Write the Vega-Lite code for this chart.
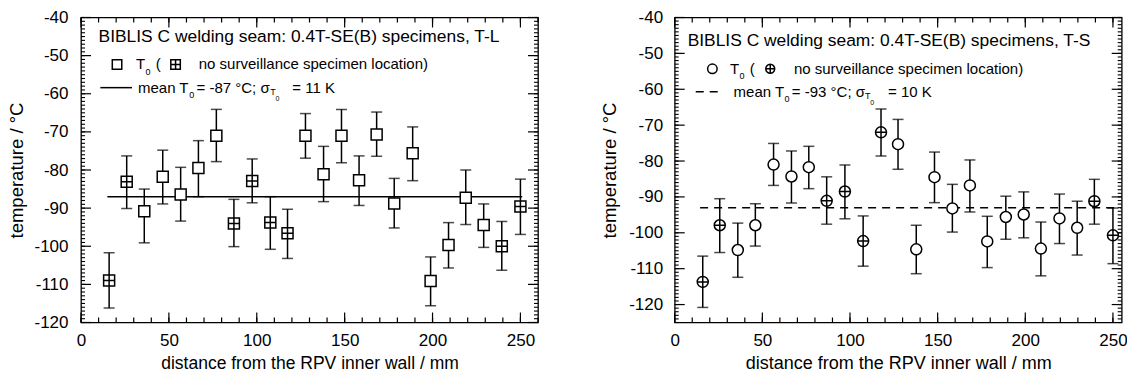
{
  "$schema": "https://vega.github.io/schema/vega-lite/v6.json",
  "padding": {"left": 7, "top": 7.5, "right": 0, "bottom": 0},
  "background": "white",
  "spacing": 136.7,
  "bounds": "flush",
  "resolve": {"scale": {"shape": "independent"}},
  "datasets": {
    "tl": [
      {"d": 16, "t0": -109.0, "lo": -116.2, "hi": -101.7, "loc": "nss"},
      {"d": 26, "t0": -83.1, "lo": -90.1, "hi": -76.3, "loc": "nss"},
      {"d": 36, "t0": -90.8, "lo": -99.1, "hi": -85.0, "loc": "std"},
      {"d": 46.5, "t0": -81.8, "lo": -88.9, "hi": -74.8, "loc": "std"},
      {"d": 56.7, "t0": -86.4, "lo": -93.4, "hi": -79.3, "loc": "std"},
      {"d": 66.8, "t0": -79.5, "lo": -87.0, "hi": -72.3, "loc": "std"},
      {"d": 77, "t0": -71.0, "lo": -77.8, "hi": -64.1, "loc": "std"},
      {"d": 87, "t0": -94.0, "lo": -100.1, "hi": -87.7, "loc": "nss"},
      {"d": 97.4, "t0": -82.9, "lo": -88.6, "hi": -77.1, "loc": "nss"},
      {"d": 107.7, "t0": -93.8, "lo": -100.8, "hi": -87.0, "loc": "nss"},
      {"d": 117.5, "t0": -96.6, "lo": -103.2, "hi": -90.3, "loc": "nss"},
      {"d": 127.7, "t0": -71.0, "lo": -76.9, "hi": -65.2, "loc": "std"},
      {"d": 138, "t0": -81.1, "lo": -88.3, "hi": -73.8, "loc": "std"},
      {"d": 148.2, "t0": -71.0, "lo": -78.1, "hi": -64.1, "loc": "std"},
      {"d": 158.2, "t0": -82.7, "lo": -89.3, "hi": -76.3, "loc": "std"},
      {"d": 168.2, "t0": -70.7, "lo": -76.4, "hi": -64.8, "loc": "std"},
      {"d": 178.2, "t0": -88.8, "lo": -95.2, "hi": -82.2, "loc": "std"},
      {"d": 188.7, "t0": -75.6, "lo": -82.8, "hi": -68.7, "loc": "std"},
      {"d": 198.9, "t0": -109.1, "lo": -115.6, "hi": -102.8, "loc": "std"},
      {"d": 209.1, "t0": -99.7, "lo": -105.7, "hi": -93.8, "loc": "std"},
      {"d": 218.9, "t0": -87.3, "lo": -94.3, "hi": -80.0, "loc": "std"},
      {"d": 229.1, "t0": -94.4, "lo": -100.3, "hi": -88.9, "loc": "std"},
      {"d": 239.4, "t0": -100.0, "lo": -106.3, "hi": -93.5, "loc": "nss"},
      {"d": 250, "t0": -89.6, "lo": -96.9, "hi": -82.4, "loc": "nss"}
    ],
    "ts": [
      {"d": 16, "t0": -113.7, "lo": -120.8, "hi": -106.5, "loc": "nss"},
      {"d": 25.7, "t0": -97.9, "lo": -105.5, "hi": -90.5, "loc": "nss"},
      {"d": 36, "t0": -104.8, "lo": -112.4, "hi": -97.3, "loc": "std"},
      {"d": 46, "t0": -97.9, "lo": -103.7, "hi": -91.9, "loc": "std"},
      {"d": 56.4, "t0": -81.0, "lo": -86.8, "hi": -75.1, "loc": "std"},
      {"d": 66.6, "t0": -84.3, "lo": -91.7, "hi": -77.2, "loc": "std"},
      {"d": 76.5, "t0": -81.7, "lo": -87.7, "hi": -75.9, "loc": "std"},
      {"d": 86.7, "t0": -91.1, "lo": -97.6, "hi": -84.4, "loc": "nss"},
      {"d": 97.1, "t0": -88.5, "lo": -96.1, "hi": -81.1, "loc": "nss"},
      {"d": 107.5, "t0": -102.3, "lo": -109.3, "hi": -95.3, "loc": "nss"},
      {"d": 117.7, "t0": -72.0, "lo": -78.6, "hi": -65.5, "loc": "nss"},
      {"d": 127.4, "t0": -75.3, "lo": -82.3, "hi": -68.4, "loc": "std"},
      {"d": 137.8, "t0": -104.6, "lo": -111.4, "hi": -97.9, "loc": "std"},
      {"d": 148.2, "t0": -84.5, "lo": -91.6, "hi": -77.5, "loc": "std"},
      {"d": 158.4, "t0": -93.2, "lo": -99.8, "hi": -86.5, "loc": "std"},
      {"d": 168.4, "t0": -86.8, "lo": -94.2, "hi": -79.7, "loc": "std"},
      {"d": 178.3, "t0": -102.4, "lo": -109.7, "hi": -95.4, "loc": "std"},
      {"d": 188.9, "t0": -95.6, "lo": -101.8, "hi": -89.8, "loc": "std"},
      {"d": 199.1, "t0": -94.9, "lo": -101.4, "hi": -88.6, "loc": "std"},
      {"d": 208.9, "t0": -104.4, "lo": -112.0, "hi": -97.0, "loc": "std"},
      {"d": 219.5, "t0": -96.0, "lo": -103.0, "hi": -89.2, "loc": "std"},
      {"d": 229.6, "t0": -98.6, "lo": -106.2, "hi": -91.2, "loc": "std"},
      {"d": 239.4, "t0": -91.2, "lo": -97.6, "hi": -85.1, "loc": "nss"},
      {"d": 250, "t0": -100.7, "lo": -108.6, "hi": -93.1, "loc": "nss"}
    ],
    "meanL": [{"d": 15, "m": -87}, {"d": 251, "m": -87}],
    "meanR": [{"d": 14.5, "m": -93}, {"d": 255, "m": -93}],
    "xAllL": [{"v":0},{"v":10},{"v":20},{"v":30},{"v":40},{"v":50},{"v":60},{"v":70},{"v":80},{"v":90},{"v":100},{"v":110},{"v":120},{"v":130},{"v":140},{"v":150},{"v":160},{"v":170},{"v":180},{"v":190},{"v":200},{"v":210},{"v":220},{"v":230},{"v":240},{"v":250},{"v":260}],
    "xAllR": [{"v":0},{"v":10},{"v":20},{"v":30},{"v":40},{"v":50},{"v":60},{"v":70},{"v":80},{"v":90},{"v":100},{"v":110},{"v":120},{"v":130},{"v":140},{"v":150},{"v":160},{"v":170},{"v":180},{"v":190},{"v":200},{"v":210},{"v":220},{"v":230},{"v":240},{"v":250}],
    "xMaj": [{"v":0},{"v":50},{"v":100},{"v":150},{"v":200},{"v":250}],
    "yAllL": [{"v":-120},{"v":-119},{"v":-118},{"v":-117},{"v":-116},{"v":-115},{"v":-114},{"v":-113},{"v":-112},{"v":-111},{"v":-110},{"v":-109},{"v":-108},{"v":-107},{"v":-106},{"v":-105},{"v":-104},{"v":-103},{"v":-102},{"v":-101},{"v":-100},{"v":-99},{"v":-98},{"v":-97},{"v":-96},{"v":-95},{"v":-94},{"v":-93},{"v":-92},{"v":-91},{"v":-90},{"v":-89},{"v":-88},{"v":-87},{"v":-86},{"v":-85},{"v":-84},{"v":-83},{"v":-82},{"v":-81},{"v":-80},{"v":-79},{"v":-78},{"v":-77},{"v":-76},{"v":-75},{"v":-74},{"v":-73},{"v":-72},{"v":-71},{"v":-70},{"v":-69},{"v":-68},{"v":-67},{"v":-66},{"v":-65},{"v":-64},{"v":-63},{"v":-62},{"v":-61},{"v":-60},{"v":-59},{"v":-58},{"v":-57},{"v":-56},{"v":-55},{"v":-54},{"v":-53},{"v":-52},{"v":-51},{"v":-50},{"v":-49},{"v":-48},{"v":-47},{"v":-46},{"v":-45},{"v":-44},{"v":-43},{"v":-42},{"v":-41},{"v":-40}],
    "yAllR": [{"v":-125},{"v":-124},{"v":-123},{"v":-122},{"v":-121},{"v":-120},{"v":-119},{"v":-118},{"v":-117},{"v":-116},{"v":-115},{"v":-114},{"v":-113},{"v":-112},{"v":-111},{"v":-110},{"v":-109},{"v":-108},{"v":-107},{"v":-106},{"v":-105},{"v":-104},{"v":-103},{"v":-102},{"v":-101},{"v":-100},{"v":-99},{"v":-98},{"v":-97},{"v":-96},{"v":-95},{"v":-94},{"v":-93},{"v":-92},{"v":-91},{"v":-90},{"v":-89},{"v":-88},{"v":-87},{"v":-86},{"v":-85},{"v":-84},{"v":-83},{"v":-82},{"v":-81},{"v":-80},{"v":-79},{"v":-78},{"v":-77},{"v":-76},{"v":-75},{"v":-74},{"v":-73},{"v":-72},{"v":-71},{"v":-70},{"v":-69},{"v":-68},{"v":-67},{"v":-66},{"v":-65},{"v":-64},{"v":-63},{"v":-62},{"v":-61},{"v":-60},{"v":-59},{"v":-58},{"v":-57},{"v":-56},{"v":-55},{"v":-54},{"v":-53},{"v":-52},{"v":-51},{"v":-50},{"v":-49},{"v":-48},{"v":-47},{"v":-46},{"v":-45},{"v":-44},{"v":-43},{"v":-42},{"v":-41},{"v":-40}],
    "yMaj": [{"v":-120},{"v":-110},{"v":-100},{"v":-90},{"v":-80},{"v":-70},{"v":-60},{"v":-50},{"v":-40}]
  },
  "hconcat": [
    {
      "width": 457,
      "height": 305,
      "layer": [
        {
          "data": {"name": "tl"},
          "mark": {"type": "errorbar", "ticks": {"size": 11, "thickness": 1.5, "color": "black"}, "rule": {"strokeWidth": 1.5, "color": "black"}},
          "encoding": {
            "x": {"field": "d", "type": "quantitative", "scale": {"domain": [0, 260], "nice": false, "zero": false}, "axis": null},
            "y": {"field": "lo", "type": "quantitative", "scale": {"domain": [-120, -40], "nice": false, "zero": false}, "axis": null},
            "y2": {"field": "hi"}
          }
        },
        {"data": {"name": "xAllL"}, "mark": {"type": "rule", "color": "black", "strokeWidth": 1.2}, "encoding": {"x": {"field": "v", "type": "quantitative", "axis": null}, "y": {"datum": -120, "type": "quantitative", "axis": null}, "y2": {"datum": -118.69}}},
        {"data": {"name": "xMaj"}, "mark": {"type": "rule", "color": "black", "strokeWidth": 1.2}, "encoding": {"x": {"field": "v", "type": "quantitative", "axis": null}, "y": {"datum": -120, "type": "quantitative", "axis": null}, "y2": {"datum": -117.38}}},
        {"data": {"name": "xAllL"}, "mark": {"type": "rule", "color": "black", "strokeWidth": 1.2}, "encoding": {"x": {"field": "v", "type": "quantitative", "axis": null}, "y": {"datum": -40, "type": "quantitative", "axis": null}, "y2": {"datum": -41.31}}},
        {"data": {"name": "xMaj"}, "mark": {"type": "rule", "color": "black", "strokeWidth": 1.2}, "encoding": {"x": {"field": "v", "type": "quantitative", "axis": null}, "y": {"datum": -40, "type": "quantitative", "axis": null}, "y2": {"datum": -42.62}}},
        {"data": {"name": "yAllL"}, "mark": {"type": "rule", "color": "black", "strokeWidth": 1.1}, "encoding": {"y": {"field": "v", "type": "quantitative", "axis": null}, "x": {"datum": 0, "type": "quantitative", "axis": null}, "x2": {"datum": 2.28}}},
        {"data": {"name": "yMaj"}, "mark": {"type": "rule", "color": "black", "strokeWidth": 1.2}, "encoding": {"y": {"field": "v", "type": "quantitative", "axis": null}, "x": {"datum": 0, "type": "quantitative", "axis": null}, "x2": {"datum": 5.69}}},
        {"data": {"name": "yAllL"}, "mark": {"type": "rule", "color": "black", "strokeWidth": 1.1}, "encoding": {"y": {"field": "v", "type": "quantitative", "axis": null}, "x": {"datum": 260, "type": "quantitative", "axis": null}, "x2": {"datum": 257.72}}},
        {"data": {"name": "yMaj"}, "mark": {"type": "rule", "color": "black", "strokeWidth": 1.2}, "encoding": {"y": {"field": "v", "type": "quantitative", "axis": null}, "x": {"datum": 260, "type": "quantitative", "axis": null}, "x2": {"datum": 254.31}}},
        {
          "data": {"name": "meanL"},
          "mark": {"type": "line", "color": "black", "strokeWidth": 1.5},
          "encoding": {
            "x": {"field": "d", "type": "quantitative", "axis": null},
            "y": {"field": "m", "type": "quantitative", "axis": null}
          }
        },
        {
          "data": {"name": "tl"},
          "mark": {"type": "point", "filled": true, "fill": "white", "stroke": "black", "strokeWidth": 1.5, "size": 121, "opacity": 1},
          "encoding": {
            "x": {"field": "d", "type": "quantitative", "axis": {"orient": "bottom", "title": "distance from the RPV inner wall / mm", "titleFontSize": 17.5, "titlePadding": 6, "labelPadding": 10, "ticks": false, "domain": false, "grid": false, "labelOverlap": false, "labelFlush": false, "values": [0, 50, 100, 150, 200, 250]}},
            "y": {"field": "t0", "type": "quantitative", "axis": {"orient": "left", "title": "temperature / °C", "titleFontSize": 18.5, "titlePadding": 7, "labelPadding": 13, "ticks": false, "domain": false, "grid": false, "labelOverlap": false, "labelFlush": false, "labelExpr": "'' + datum.value", "values": [-120, -110, -100, -90, -80, -70, -60, -50, -40]}},
            "shape": {"field": "loc", "type": "nominal", "scale": {"domain": ["std", "nss"], "range": ["square", "M-1,-1H1V1H-1Z M0,-1V1 M-1,0H1"]}, "legend": null}
          }
        },
        {
          "data": {"values": [{}]},
          "mark": {"type": "text", "align": "left", "baseline": "middle", "fontSize": 17.4, "text": "BIBLIS C welding seam: 0.4T-SE(B) specimens, T-L"},
          "encoding": {"x": {"datum": 10.0, "type": "quantitative", "axis": null}, "y": {"datum": -45.1, "type": "quantitative", "axis": null}}
        },
        {
          "data": {"values": [{}]},
          "mark": {"type": "point", "shape": "square", "filled": true, "fill": "white", "stroke": "black", "strokeWidth": 1.5, "size": 90, "opacity": 1},
          "encoding": {"x": {"datum": 20.5, "type": "quantitative", "axis": null}, "y": {"datum": -52.3, "type": "quantitative", "axis": null}}
        },
        {
          "data": {"values": [{}]},
          "mark": {"type": "point", "shape": "M-1,-1H1V1H-1Z M0,-1V1 M-1,0H1", "filled": true, "fill": "white", "stroke": "black", "strokeWidth": 1.5, "size": 90, "opacity": 1},
          "encoding": {"x": {"datum": 53.8, "type": "quantitative", "axis": null}, "y": {"datum": -52.3, "type": "quantitative", "axis": null}}
        },
        {
          "data": {"values": [{}]},
          "mark": {"type": "text", "align": "left", "baseline": "middle", "fontSize": 15, "text": "T"},
          "encoding": {"x": {"datum": 31.3, "type": "quantitative", "axis": null}, "y": {"datum": -52.3, "type": "quantitative", "axis": null}}
        },
        {
          "data": {"values": [{}]},
          "mark": {"type": "text", "align": "left", "baseline": "middle", "fontSize": 9, "text": "0"},
          "encoding": {"x": {"datum": 36.7, "type": "quantitative", "axis": null}, "y": {"datum": -54.2, "type": "quantitative", "axis": null}}
        },
        {
          "data": {"values": [{}]},
          "mark": {"type": "text", "align": "left", "baseline": "middle", "fontSize": 15, "text": "("},
          "encoding": {"x": {"datum": 42.5, "type": "quantitative", "axis": null}, "y": {"datum": -52.3, "type": "quantitative", "axis": null}}
        },
        {
          "data": {"values": [{}]},
          "mark": {"type": "text", "align": "left", "baseline": "middle", "fontSize": 15, "text": "no surveillance specimen location)"},
          "encoding": {"x": {"datum": 67.0, "type": "quantitative", "axis": null}, "y": {"datum": -52.3, "type": "quantitative", "axis": null}}
        },
        {
          "data": {"values": [{}]},
          "mark": {"type": "rule", "color": "black", "strokeWidth": 1.5},
          "encoding": {"x": {"datum": 11, "type": "quantitative", "axis": null}, "x2": {"datum": 29}, "y": {"datum": -58.4, "type": "quantitative", "axis": null}}
        },
        {
          "data": {"values": [{}]},
          "mark": {"type": "text", "align": "left", "baseline": "middle", "fontSize": 15, "text": "mean T"},
          "encoding": {"x": {"datum": 32.4, "type": "quantitative", "axis": null}, "y": {"datum": -58.4, "type": "quantitative", "axis": null}}
        },
        {
          "data": {"values": [{}]},
          "mark": {"type": "text", "align": "left", "baseline": "middle", "fontSize": 9, "text": "0"},
          "encoding": {"x": {"datum": 61.6, "type": "quantitative", "axis": null}, "y": {"datum": -60.3, "type": "quantitative", "axis": null}}
        },
        {
          "data": {"values": [{}]},
          "mark": {"type": "text", "align": "left", "baseline": "middle", "fontSize": 15, "text": "= -87 °C; σ"},
          "encoding": {"x": {"datum": 65.7, "type": "quantitative", "axis": null}, "y": {"datum": -58.4, "type": "quantitative", "axis": null}}
        },
        {
          "data": {"values": [{}]},
          "mark": {"type": "text", "align": "left", "baseline": "middle", "fontSize": 9, "text": "T"},
          "encoding": {"x": {"datum": 107.6, "type": "quantitative", "axis": null}, "y": {"datum": -59.5, "type": "quantitative", "axis": null}}
        },
        {
          "data": {"values": [{}]},
          "mark": {"type": "text", "align": "left", "baseline": "middle", "fontSize": 7, "text": "0"},
          "encoding": {"x": {"datum": 110.6, "type": "quantitative", "axis": null}, "y": {"datum": -61.3, "type": "quantitative", "axis": null}}
        },
        {
          "data": {"values": [{}]},
          "mark": {"type": "text", "align": "left", "baseline": "middle", "fontSize": 15, "text": "= 11 K"},
          "encoding": {"x": {"datum": 120.2, "type": "quantitative", "axis": null}, "y": {"datum": -58.4, "type": "quantitative", "axis": null}}
        }
      ],
      "resolve": {"axis": {"x": "independent", "y": "independent"}}
    },
    {
      "width": 447,
      "height": 305,
      "layer": [
        {
          "data": {"name": "ts"},
          "mark": {"type": "errorbar", "ticks": {"size": 11, "thickness": 1.5, "color": "black"}, "rule": {"strokeWidth": 1.5, "color": "black"}},
          "encoding": {
            "x": {"field": "d", "type": "quantitative", "scale": {"domain": [0, 255], "nice": false, "zero": false}, "axis": null},
            "y": {"field": "lo", "type": "quantitative", "scale": {"domain": [-125, -40], "nice": false, "zero": false}, "axis": null},
            "y2": {"field": "hi"}
          }
        },
        {"data": {"name": "xAllR"}, "mark": {"type": "rule", "color": "black", "strokeWidth": 1.2}, "encoding": {"x": {"field": "v", "type": "quantitative", "axis": null}, "y": {"datum": -125, "type": "quantitative", "axis": null}, "y2": {"datum": -123.61}}},
        {"data": {"name": "xMaj"}, "mark": {"type": "rule", "color": "black", "strokeWidth": 1.2}, "encoding": {"x": {"field": "v", "type": "quantitative", "axis": null}, "y": {"datum": -125, "type": "quantitative", "axis": null}, "y2": {"datum": -122.21}}},
        {"data": {"name": "xAllR"}, "mark": {"type": "rule", "color": "black", "strokeWidth": 1.2}, "encoding": {"x": {"field": "v", "type": "quantitative", "axis": null}, "y": {"datum": -40, "type": "quantitative", "axis": null}, "y2": {"datum": -41.39}}},
        {"data": {"name": "xMaj"}, "mark": {"type": "rule", "color": "black", "strokeWidth": 1.2}, "encoding": {"x": {"field": "v", "type": "quantitative", "axis": null}, "y": {"datum": -40, "type": "quantitative", "axis": null}, "y2": {"datum": -42.79}}},
        {"data": {"name": "yAllR"}, "mark": {"type": "rule", "color": "black", "strokeWidth": 1.1}, "encoding": {"y": {"field": "v", "type": "quantitative", "axis": null}, "x": {"datum": 0, "type": "quantitative", "axis": null}, "x2": {"datum": 2.28}}},
        {"data": {"name": "yMaj"}, "mark": {"type": "rule", "color": "black", "strokeWidth": 1.2}, "encoding": {"y": {"field": "v", "type": "quantitative", "axis": null}, "x": {"datum": 0, "type": "quantitative", "axis": null}, "x2": {"datum": 5.7}}},
        {"data": {"name": "yAllR"}, "mark": {"type": "rule", "color": "black", "strokeWidth": 1.1}, "encoding": {"y": {"field": "v", "type": "quantitative", "axis": null}, "x": {"datum": 255, "type": "quantitative", "axis": null}, "x2": {"datum": 252.72}}},
        {"data": {"name": "yMaj"}, "mark": {"type": "rule", "color": "black", "strokeWidth": 1.2}, "encoding": {"y": {"field": "v", "type": "quantitative", "axis": null}, "x": {"datum": 255, "type": "quantitative", "axis": null}, "x2": {"datum": 249.3}}},
        {
          "data": {"name": "meanR"},
          "mark": {"type": "line", "color": "black", "strokeWidth": 1.5, "strokeDash": [8, 6]},
          "encoding": {
            "x": {"field": "d", "type": "quantitative", "axis": null},
            "y": {"field": "m", "type": "quantitative", "axis": null}
          }
        },
        {
          "data": {"name": "ts"},
          "mark": {"type": "point", "filled": true, "fill": "white", "stroke": "black", "strokeWidth": 1.5, "size": 121, "opacity": 1},
          "encoding": {
            "x": {"field": "d", "type": "quantitative", "axis": {"orient": "bottom", "title": "distance from the RPV inner wall / mm", "titleFontSize": 18, "titlePadding": 6, "labelPadding": 10, "ticks": false, "domain": false, "grid": false, "labelOverlap": false, "labelFlush": false, "values": [0, 50, 100, 150, 200, 250]}},
            "y": {"field": "t0", "type": "quantitative", "axis": {"orient": "left", "title": "temperature / °C", "titleFontSize": 18.5, "titlePadding": 9, "labelPadding": 12, "ticks": false, "domain": false, "grid": false, "labelOverlap": false, "labelFlush": false, "labelExpr": "'' + datum.value", "values": [-120, -110, -100, -90, -80, -70, -60, -50, -40]}},
            "shape": {"field": "loc", "type": "nominal", "scale": {"domain": ["std", "nss"], "range": ["circle", "M-1,0A1,1,0,1,1,1,0A1,1,0,1,1,-1,0Z M0,-1V1 M-1,0H1"]}, "legend": null}
          }
        },
        {
          "data": {"values": [{}]},
          "mark": {"type": "text", "align": "left", "baseline": "middle", "fontSize": 17.4, "text": "BIBLIS C welding seam: 0.4T-SE(B) specimens, T-S"},
          "encoding": {"x": {"datum": 7.4, "type": "quantitative", "axis": null}, "y": {"datum": -46.6, "type": "quantitative", "axis": null}}
        },
        {
          "data": {"values": [{}]},
          "mark": {"type": "point", "shape": "circle", "filled": true, "fill": "white", "stroke": "black", "strokeWidth": 1.5, "size": 90, "opacity": 1},
          "encoding": {"x": {"datum": 21.5, "type": "quantitative", "axis": null}, "y": {"datum": -54.3, "type": "quantitative", "axis": null}}
        },
        {
          "data": {"values": [{}]},
          "mark": {"type": "point", "shape": "M-1,0A1,1,0,1,1,1,0A1,1,0,1,1,-1,0Z M0,-1V1 M-1,0H1", "filled": true, "fill": "white", "stroke": "black", "strokeWidth": 1.5, "size": 80, "opacity": 1},
          "encoding": {"x": {"datum": 54.5, "type": "quantitative", "axis": null}, "y": {"datum": -54.3, "type": "quantitative", "axis": null}}
        },
        {
          "data": {"values": [{}]},
          "mark": {"type": "text", "align": "left", "baseline": "middle", "fontSize": 15, "text": "T"},
          "encoding": {"x": {"datum": 31.5, "type": "quantitative", "axis": null}, "y": {"datum": -54.3, "type": "quantitative", "axis": null}}
        },
        {
          "data": {"values": [{}]},
          "mark": {"type": "text", "align": "left", "baseline": "middle", "fontSize": 9, "text": "0"},
          "encoding": {"x": {"datum": 36.9, "type": "quantitative", "axis": null}, "y": {"datum": -56.3, "type": "quantitative", "axis": null}}
        },
        {
          "data": {"values": [{}]},
          "mark": {"type": "text", "align": "left", "baseline": "middle", "fontSize": 15, "text": "("},
          "encoding": {"x": {"datum": 42.8, "type": "quantitative", "axis": null}, "y": {"datum": -54.3, "type": "quantitative", "axis": null}}
        },
        {
          "data": {"values": [{}]},
          "mark": {"type": "text", "align": "left", "baseline": "middle", "fontSize": 15, "text": "no surveillance specimen location)"},
          "encoding": {"x": {"datum": 68.0, "type": "quantitative", "axis": null}, "y": {"datum": -54.3, "type": "quantitative", "axis": null}}
        },
        {
          "data": {"values": [{}]},
          "mark": {"type": "rule", "color": "black", "strokeWidth": 1.5, "strokeDash": [8, 6]},
          "encoding": {"x": {"datum": 12, "type": "quantitative", "axis": null}, "x2": {"datum": 25}, "y": {"datum": -60.7, "type": "quantitative", "axis": null}}
        },
        {
          "data": {"values": [{}]},
          "mark": {"type": "text", "align": "left", "baseline": "middle", "fontSize": 15, "text": "mean T"},
          "encoding": {"x": {"datum": 33.6, "type": "quantitative", "axis": null}, "y": {"datum": -60.7, "type": "quantitative", "axis": null}}
        },
        {
          "data": {"values": [{}]},
          "mark": {"type": "text", "align": "left", "baseline": "middle", "fontSize": 9, "text": "0"},
          "encoding": {"x": {"datum": 62.6, "type": "quantitative", "axis": null}, "y": {"datum": -62.7, "type": "quantitative", "axis": null}}
        },
        {
          "data": {"values": [{}]},
          "mark": {"type": "text", "align": "left", "baseline": "middle", "fontSize": 15, "text": "= -93 °C; σ"},
          "encoding": {"x": {"datum": 66.8, "type": "quantitative", "axis": null}, "y": {"datum": -60.7, "type": "quantitative", "axis": null}}
        },
        {
          "data": {"values": [{}]},
          "mark": {"type": "text", "align": "left", "baseline": "middle", "fontSize": 9, "text": "T"},
          "encoding": {"x": {"datum": 108.5, "type": "quantitative", "axis": null}, "y": {"datum": -61.9, "type": "quantitative", "axis": null}}
        },
        {
          "data": {"values": [{}]},
          "mark": {"type": "text", "align": "left", "baseline": "middle", "fontSize": 7, "text": "0"},
          "encoding": {"x": {"datum": 111.5, "type": "quantitative", "axis": null}, "y": {"datum": -63.7, "type": "quantitative", "axis": null}}
        },
        {
          "data": {"values": [{}]},
          "mark": {"type": "text", "align": "left", "baseline": "middle", "fontSize": 15, "text": "= 10 K"},
          "encoding": {"x": {"datum": 121.7, "type": "quantitative", "axis": null}, "y": {"datum": -60.7, "type": "quantitative", "axis": null}}
        }
      ],
      "resolve": {"axis": {"x": "independent", "y": "independent"}}
    }
  ],
  "config": {
    "font": "Liberation Sans",
    "view": {"stroke": "black", "strokeWidth": 1.3},
    "text": {"font": "Liberation Sans", "color": "black"},
    "axis": {
      "labelFont": "Liberation Sans",
      "labelFontSize": 17,
      "labelColor": "black",
      "titleFont": "Liberation Sans",
      "titleFontWeight": "normal",
      "titleColor": "black",
      "domainColor": "black",
      "domainWidth": 1.3,
      "tickColor": "black",
      "tickWidth": 1.2,
      "grid": false
    }
  }
}
